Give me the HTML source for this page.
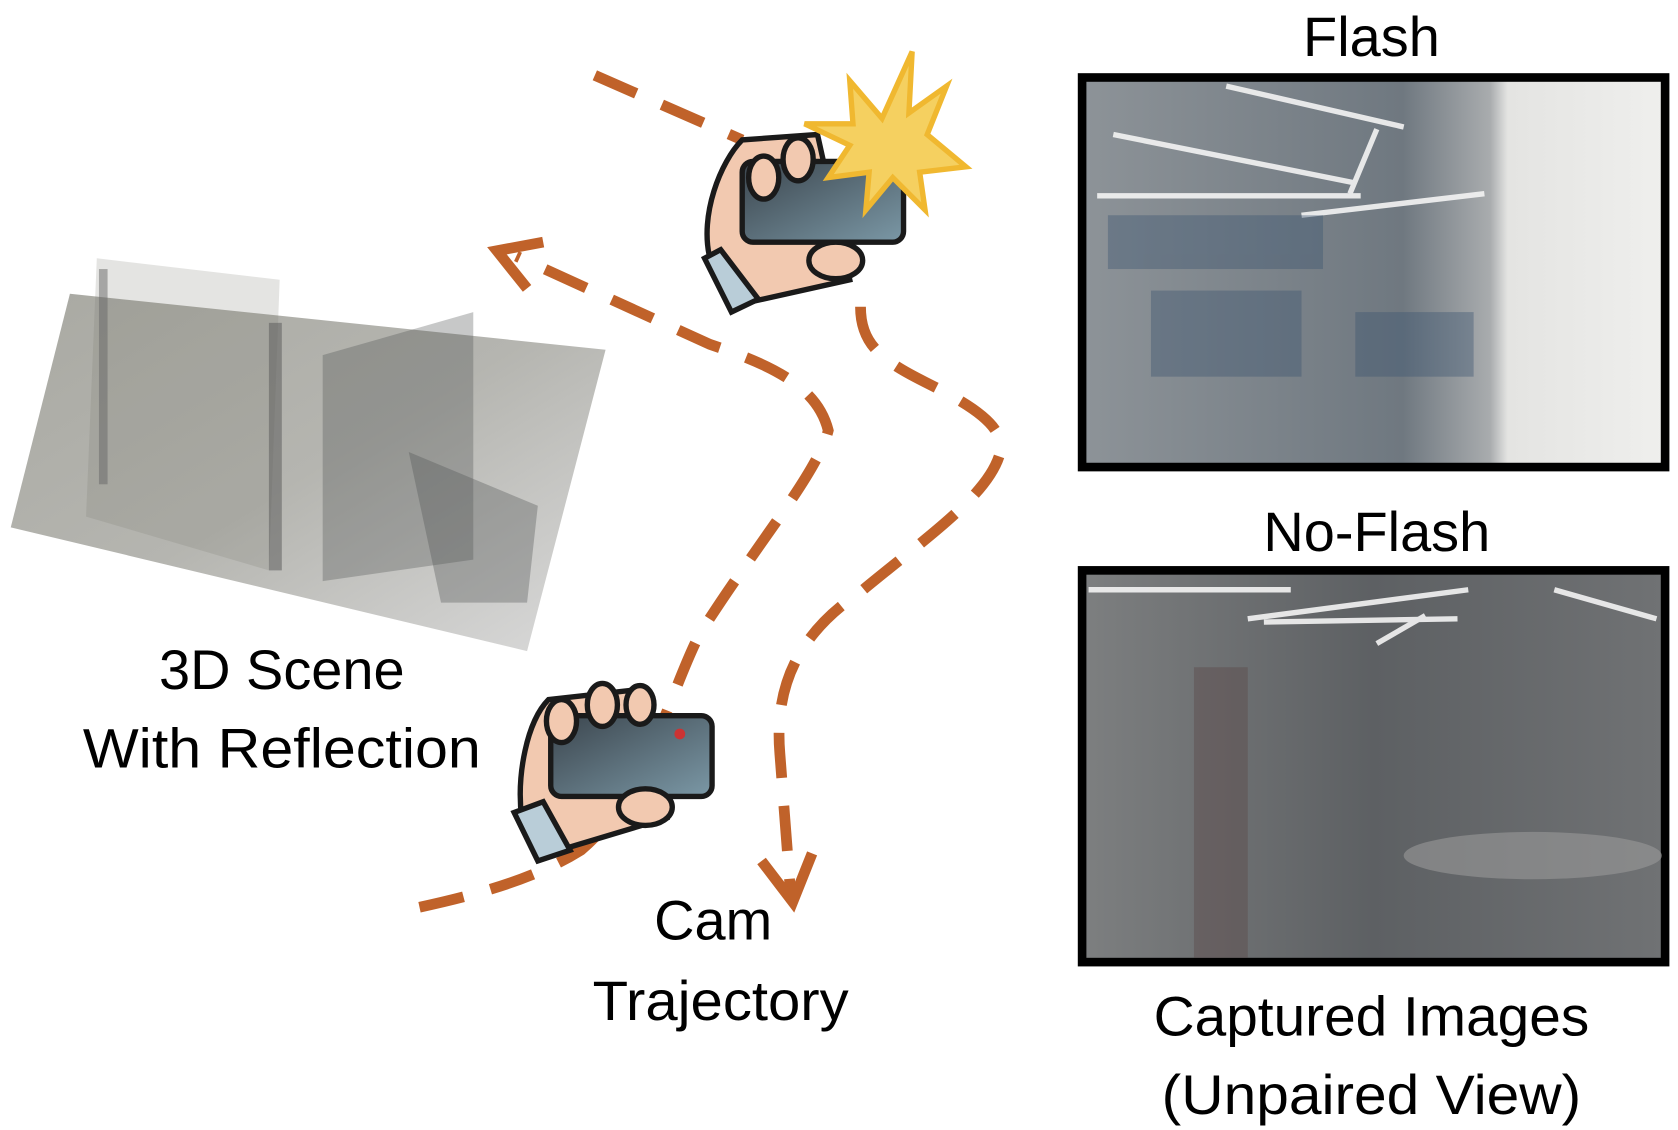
<!DOCTYPE html>
<html><head><meta charset="utf-8"><style>
html,body{margin:0;padding:0;background:#fff;width:1678px;height:1130px;overflow:hidden}
svg{display:block}
text{font-family:"Liberation Sans",sans-serif;fill:#000}
</style></head><body>
<svg width="1678" height="1130" viewBox="0 0 1560 1050" preserveAspectRatio="none">
<defs>
<linearGradient id="pc" x1="0" y1="0" x2="1" y2="1">
<stop offset="0" stop-color="#9a9a92"/><stop offset="0.5" stop-color="#a8a8a2"/><stop offset="1" stop-color="#d4d4d4"/>
</linearGradient>
<linearGradient id="fl" x1="0" y1="0" x2="1" y2="0">
<stop offset="0" stop-color="#8d9398"/><stop offset="0.55" stop-color="#6f7880"/><stop offset="0.7" stop-color="#a9acae"/><stop offset="0.73" stop-color="#e4e4e2"/><stop offset="1" stop-color="#efefed"/>
</linearGradient>
<linearGradient id="nf" x1="0" y1="0" x2="1" y2="0">
<stop offset="0" stop-color="#7d7f80"/><stop offset="0.5" stop-color="#5d6063"/><stop offset="1" stop-color="#707274"/>
</linearGradient>
<linearGradient id="ph" x1="0" y1="0" x2="1" y2="1">
<stop offset="0" stop-color="#3b454d"/><stop offset="1" stop-color="#7b98a6"/>
</linearGradient>
</defs>

<!-- point cloud -->
<polygon points="65,273 563,325 490,605 10,490" fill="url(#pc)" opacity="0.85"/>
<polygon points="90,240 260,260 250,530 80,480" fill="#777a70" opacity="0.2"/>
<polygon points="300,330 440,290 440,520 300,540" fill="#444a4a" opacity="0.3"/>
<polygon points="380,420 500,470 490,560 410,560" fill="#4f5452" opacity="0.35"/>
<rect x="250" y="300" width="12" height="230" fill="#555" opacity="0.5"/>
<rect x="92" y="250" width="8" height="200" fill="#666" opacity="0.5"/>

<!-- flash image -->
<rect x="1006" y="72" width="542" height="362" fill="url(#fl)" stroke="#000" stroke-width="8"/>
<g stroke="#f4f4f4" stroke-width="5" opacity="0.9">
<line x1="1035" y1="125" x2="1260" y2="170"/><line x1="1020" y1="182" x2="1265" y2="182"/>
<line x1="1210" y1="200" x2="1380" y2="180"/><line x1="1140" y1="80" x2="1305" y2="118"/>
<line x1="1255" y1="180" x2="1280" y2="120"/>
</g>
<g fill="#3d5570" opacity="0.4">
<rect x="1070" y="270" width="140" height="80"/><rect x="1260" y="290" width="110" height="60"/>
<rect x="1030" y="200" width="200" height="50"/>
</g>
<!-- no flash image -->
<rect x="1006" y="530" width="542" height="364" fill="url(#nf)" stroke="#000" stroke-width="8"/>
<g stroke="#f4f4f4" stroke-width="5" opacity="0.9">
<line x1="1012" y1="548" x2="1200" y2="548"/><line x1="1160" y1="575" x2="1365" y2="548"/>
<line x1="1175" y1="578" x2="1355" y2="575"/><line x1="1445" y1="548" x2="1540" y2="575"/>
<line x1="1280" y1="598" x2="1325" y2="572"/>
</g>
<ellipse cx="1425" cy="795" rx="120" ry="22" fill="#999" opacity="0.6"/>
<rect x="1110" y="620" width="50" height="270" fill="#5a4646" opacity="0.4"/>

<!-- dashed trajectories -->
<g fill="none" stroke="#c0622a" stroke-width="10" stroke-dasharray="42 26">
<path d="M390,843 C450,830 500,815 540,790 C600,740 620,650 650,590 C700,510 760,440 770,400 C760,360 720,340 660,320 L480,238"/>
<path d="M553,70 L690,130"/>
<path d="M800,285 C800,320 820,335 860,355 C900,375 935,395 930,420 C920,460 860,500 800,550 C740,590 720,640 725,700 L735,830"/>
</g>
<path d="M505,225 L462,233 L490,268" fill="none" stroke="#c0622a" stroke-width="10"/>
<path d="M708,800 L737,838 L755,793" fill="none" stroke="#c0622a" stroke-width="10"/>

<!-- top hand & phone -->
<g stroke="#1a1a1a" stroke-width="5">
<path d="M660,240 C650,200 670,150 690,130 L760,125 L790,260 L700,280 Z" fill="#f2c9b0"/>
<path d="M655,240 L680,290 L705,278 L670,232 Z" fill="#b9cdd8"/>
<rect x="690" y="150" width="150" height="75" rx="10" fill="url(#ph)"/>
<ellipse cx="777" cy="242" rx="25" ry="17" fill="#f2c9b0"/>
<ellipse cx="710" cy="165" rx="14" ry="20" fill="#f2c9b0"/>
<ellipse cx="742" cy="148" rx="14" ry="20" fill="#f2c9b0"/>
</g>
<polygon points="820,110 848,48 845,105 880,80 862,125 898,155 855,160 860,195 830,165 805,195 808,160 770,165 790,135 748,115 793,115 790,75" fill="#f5d060" stroke="#f0b830" stroke-width="5"/>

<!-- bottom hand & phone -->
<g stroke="#1a1a1a" stroke-width="5">
<path d="M485,760 C480,720 490,670 510,650 L600,640 L620,760 L520,790 Z" fill="#f2c9b0"/>
<path d="M478,755 L500,800 L530,790 L505,745 Z" fill="#b9cdd8"/>
<rect x="512" y="665" width="150" height="75" rx="10" fill="url(#ph)"/>
<ellipse cx="600" cy="750" rx="25" ry="17" fill="#f2c9b0"/>
<ellipse cx="522" cy="670" rx="14" ry="20" fill="#f2c9b0"/>
<ellipse cx="560" cy="655" rx="14" ry="20" fill="#f2c9b0"/>
<ellipse cx="595" cy="655" rx="13" ry="18" fill="#f2c9b0"/>
</g>
<circle cx="632" cy="682" r="5" fill="#c33"/>

<!-- labels -->
<g font-size="52" text-anchor="middle">
<text x="1275" y="52">Flash</text>
<text x="1280" y="512">No-Flash</text>
<text x="1275" y="962" textLength="405" lengthAdjust="spacingAndGlyphs">Captured Images</text>
<text x="1275" y="1035" textLength="390" lengthAdjust="spacingAndGlyphs">(Unpaired View)</text>
<text x="262" y="640">3D Scene</text>
<text x="262" y="713" textLength="370" lengthAdjust="spacingAndGlyphs">With Reflection</text>
<text x="663" y="873">Cam</text>
<text x="670" y="948" textLength="238" lengthAdjust="spacingAndGlyphs">Trajectory</text>
</g>
</svg>
</body></html>
